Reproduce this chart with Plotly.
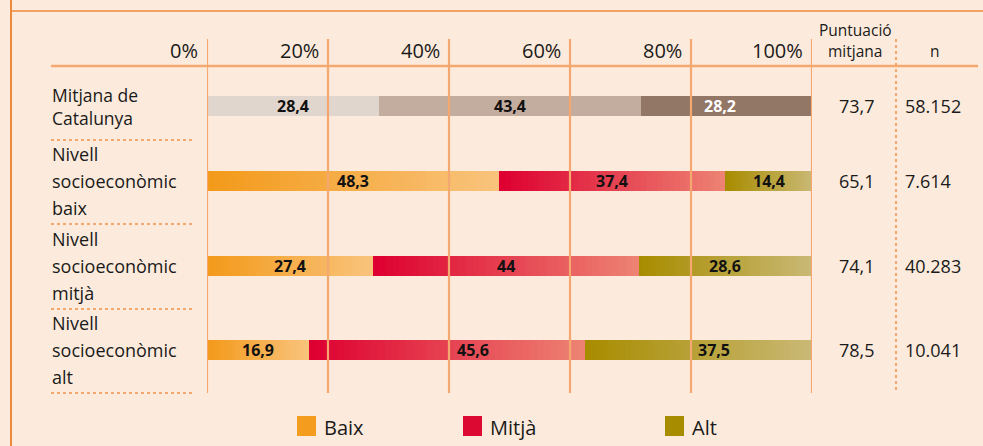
import plotly.graph_objects as go

# ---- data -------------------------------------------------------------
ROW_LABELS = [
    ["Mitjana de", "Catalunya"],
    ["Nivell", "socioeconòmic", "baix"],
    ["Nivell", "socioeconòmic", "mitjà"],
    ["Nivell", "socioeconòmic", "alt"],
]
CATEGORIES = ["Baix", "Mitjà", "Alt"]
BAIX = [28.4, 48.3, 27.4, 16.9]
MITJA = [43.4, 37.4, 44.0, 45.6]
ALT = [28.2, 14.4, 28.6, 37.5]
PUNTUACIO = [73.7, 65.1, 74.1, 78.5]
N_CASES = [58152, 7614, 40283, 10041]
TICKS = [0, 20, 40, 60, 80, 100]

# ---- style ------------------------------------------------------------
W, H = 983, 446
BG = "#fcebdc"
FRAME = "#ec8a3e"
GRID = "#f4a870"
FONT = "Open Sans"
INK = "#1a1a1a"
ROW_Y = [106, 181, 266, 350]          # bar centres, px from top
BAR_H = 20
X0_PX, X1_PX = 207, 812               # 0% .. 100%

# gradient (left colour, right colour) per category; first row is flat grey-brown
GRAD = {
    "Baix": ("#f39a1a", "#f9c37c"),
    "Mitjà": ("#de0030", "#ed8272"),
    "Alt": ("#a88c00", "#c9b874"),
}
CAT_ROW = [("#e0d6cd", "#e0d6cd"), ("#c3ad9f", "#c3ad9f"), ("#927666", "#927666")]
LEGEND_COL = {"Baix": "#f39c1e", "Mitjà": "#dc0a33", "Alt": "#a88c00"}
LEGEND_X = {"Baix": 297, "Mitjà": 463, "Alt": 665}
VALUE_SHIFT = {(3, 1): 26, (3, 2): 15, (0, 2): -7}


def px(x):
    return x / W


def mix(c0, c1, t):
    a = [int(c0[i:i + 2], 16) for i in (1, 3, 5)]
    b = [int(c1[i:i + 2], 16) for i in (1, 3, 5)]
    return "#%02x%02x%02x" % tuple(round(a[k] + (b[k] - a[k]) * t) for k in range(3))


def fmt_dec(v):
    return ("%g" % v).replace(".", ",")


fig = go.Figure()
annotations = []
shapes = []

series = [BAIX, MITJA, ALT]
n_slices = 40
for r, y in enumerate(ROW_Y):
    start = 0.0
    for k, cat in enumerate(CATEGORIES):
        v = series[k][r]
        c0, c1 = CAT_ROW[k] if r == 0 else GRAD[cat]
        bases = [start + v * i / n_slices for i in range(n_slices)]
        colors = [mix(c0, c1, i / (n_slices - 1)) for i in range(n_slices)]
        fig.add_trace(go.Bar(
            y=[y] * n_slices, x=[v / n_slices] * n_slices, base=bases,
            orientation="h", width=BAR_H,
            marker=dict(color=colors, line_width=0),
            showlegend=False, hoverinfo="skip",
        ))
        white = r == 0 and k == 2
        annotations.append(dict(
            x=start + v / 2, y=y, xref="x", yref="y", text=f"<b>{fmt_dec(v)}</b>",
            showarrow=False, xanchor="center", xshift=VALUE_SHIFT.get((r, k), 0),
            font=dict(family=FONT, size=16, color="white" if white else "#111"),
        ))
        start += v

    # row labels: two-line label in one block, three-line labels spaced wider
    lines = ROW_LABELS[r]
    if len(lines) == 2:
        annotations.append(dict(
            x=px(50), y=y, xref="paper", yref="y", text="<br>".join(lines),
            showarrow=False, xanchor="left", align="left",
            font=dict(family=FONT, size=17.5, color=INK),
        ))
        sep_y = y + 34
    else:
        for i, line in enumerate(lines):
            annotations.append(dict(
                x=px(50), y=y + (i - 1) * 27, xref="paper", yref="y",
                text=line, showarrow=False, xanchor="left",
                font=dict(family=FONT, size=18, color=INK),
            ))
        sep_y = y + 43
    shapes.append(dict(type="line", xref="paper", yref="y", x0=px(51), x1=px(192),
                       y0=sep_y, y1=sep_y, line=dict(color=GRID, width=2, dash="dot")))

    annotations.append(dict(
        x=px(857), y=y, xref="paper", yref="y", text=fmt_dec(PUNTUACIO[r]),
        showarrow=False, xanchor="center", font=dict(family=FONT, size=18, color=INK),
    ))
    annotations.append(dict(
        x=px(903), y=y, xref="paper", yref="y", text=f"{N_CASES[r]:,}".replace(",", "."),
        showarrow=False, xanchor="left", font=dict(family=FONT, size=18, color=INK),
    ))

# percentage tick labels and grid
for t in TICKS:
    annotations.append(dict(
        x=t, y=50, xref="x", yref="y", text=f"{t}%", showarrow=False,
        xanchor="right", xshift=-7, font=dict(family=FONT, size=20, color=INK),
    ))
    shapes.append(dict(type="line", xref="x", yref="y", x0=t, x1=t, y0=39, y1=393,
                       line=dict(color=GRID, width=2.2), layer="above"))

# header of the right-hand columns
annotations += [
    dict(x=px(855), y=30, xref="paper", yref="y", text="Puntuació", showarrow=False,
         xanchor="center", font=dict(family=FONT, size=15.5, color=INK)),
    dict(x=px(855), y=51, xref="paper", yref="y", text="mitjana", showarrow=False,
         xanchor="center", font=dict(family=FONT, size=15.5, color=INK)),
    dict(x=px(935), y=51, xref="paper", yref="y", text="n", showarrow=False,
         xanchor="center", font=dict(family=FONT, size=15.5, color=INK)),
]

# legend
for cat in CATEGORIES:
    lx = LEGEND_X[cat]
    shapes.append(dict(type="rect", xref="paper", yref="y", x0=px(lx), x1=px(lx + 19),
                       y0=416, y1=436, fillcolor=LEGEND_COL[cat], line_width=0))
    annotations.append(dict(
        x=px(lx + 25), y=427, xref="paper", yref="y", text=cat, showarrow=False,
        xanchor="left", font=dict(family=FONT, size=20, color=INK),
    ))

# frame and rules
shapes += [
    dict(type="line", xref="paper", yref="y", x0=px(11), x1=px(11), y0=0, y1=H,
         line=dict(color=FRAME, width=2)),
    dict(type="line", xref="paper", yref="y", x0=px(11), x1=1, y0=11, y1=11,
         line=dict(color=FRAME, width=1.5)),
    dict(type="line", xref="paper", yref="y", x0=px(51), x1=px(978), y0=66, y1=66,
         line=dict(color=GRID, width=2.5)),
    dict(type="line", xref="paper", yref="y", x0=px(896), x1=px(896), y0=39, y1=393,
         line=dict(color=GRID, width=2, dash="dot")),
]

fig.update_layout(
    width=W, height=H,
    margin=dict(l=0, r=0, t=0, b=0),
    paper_bgcolor=BG, plot_bgcolor=BG,
    barmode="overlay", bargap=0,
    xaxis=dict(domain=[X0_PX / W, X1_PX / W], range=[0, 100], visible=False, fixedrange=True),
    yaxis=dict(domain=[0, 1], range=[H, 0], visible=False, fixedrange=True),
    shapes=shapes, annotations=annotations,
    showlegend=False,
)

# drop the browser's default 8px body margin so the figure fills the window
fig.write_html(
    "out.html",
    config={"displayModeBar": False},
    post_script="document.body.style.margin = '0';",
)
